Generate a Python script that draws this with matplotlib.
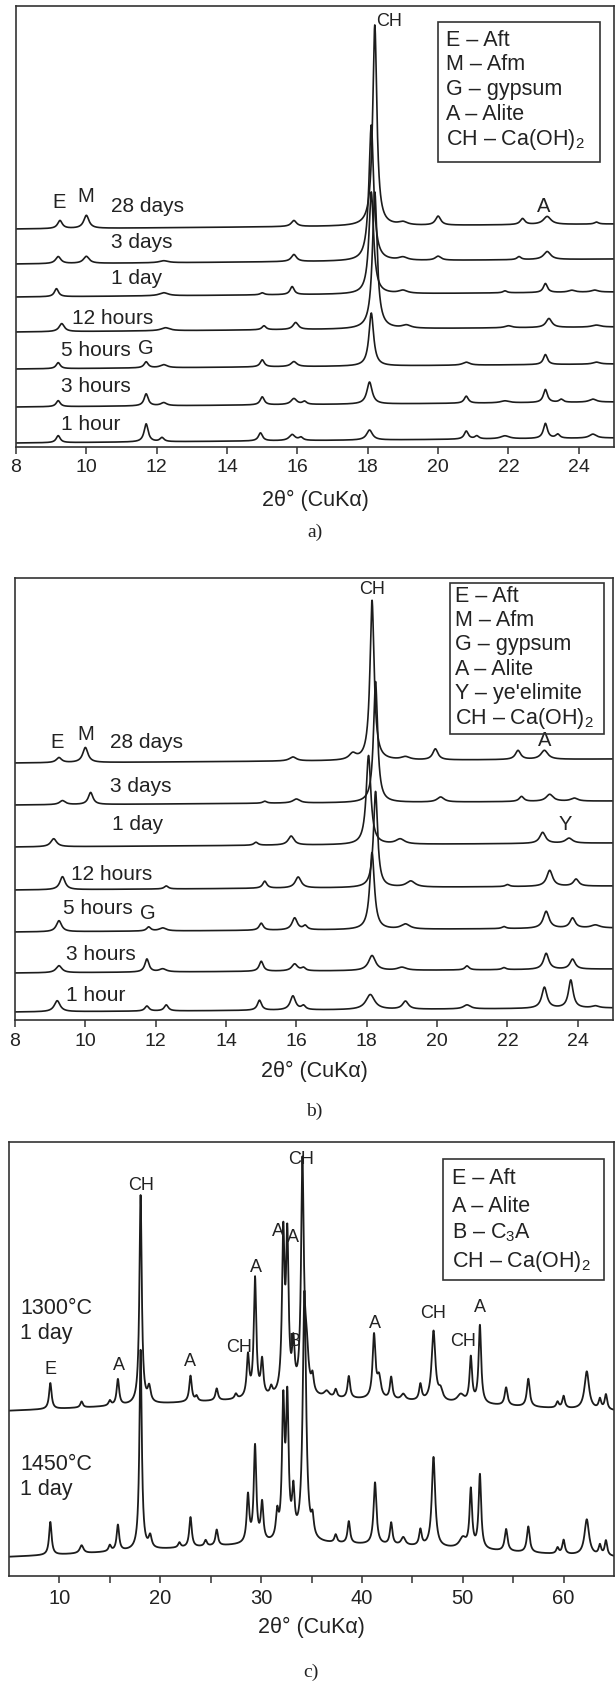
import numpy as np
import matplotlib
matplotlib.use("Agg")
import matplotlib.pyplot as plt
from matplotlib.patches import Rectangle

plt.rcParams["font.family"] = ["Liberation Sans", "DejaVu Sans"]
plt.rcParams["mathtext.fontset"] = "custom"
plt.rcParams["mathtext.rm"] = "Liberation Sans"
plt.rcParams["mathtext.default"] = "regular"

# ---------------- data: peaks as (2theta, height[, half width]) ----------------
ages = ["1 hour", "3 hours", "5 hours", "12 hours", "1 day", "3 days", "28 days"]

# panel a
a_1h = [(9.2, 7), (11.7, 18), (12.15, 4), (14.95, 8), (15.85, 6, 0.1), (16.1, 3), (18.05, 10, 0.1),
        (20.8, 8), (21.1, 3), (21.9, 3, 0.15), (23.05, 15), (23.4, 4), (24.4, 4, 0.12)]
a_3h = [(9.2, 6), (11.7, 12), (12.2, 3, 0.1), (15.0, 8), (15.9, 6, 0.1), (16.2, 3), (18.05, 22, 0.09),
        (20.8, 7), (21.9, 2, 0.15), (23.05, 13), (23.5, 3), (24.4, 3, 0.12)]
a_5h = [(9.2, 6), (11.7, 6), (12.2, 3, 0.12), (15.0, 7), (15.9, 5, 0.1), (18.1, 53, 0.08),
        (20.8, 3, 0.12), (23.05, 10), (24.5, 2, 0.12)]
a_12h = [(9.3, 8, 0.09), (12.25, 3, 0.15), (15.05, 4), (15.95, 7, 0.09), (18.2, 137, 0.08),
         (19.1, 3, 0.15), (22.0, 2, 0.12), (23.15, 9, 0.1), (24.5, 2, 0.15)]
a_1d = [(9.15, 8), (12.2, 3, 0.15), (15.0, 2), (15.85, 8), (18.1, 102, 0.08), (19.0, 3, 0.15),
        (21.9, 2), (23.05, 9), (23.8, 2, 0.12), (24.45, 2, 0.12)]
a_3d = [(9.2, 7, 0.09), (10.0, 7, 0.1), (12.2, 2, 0.15), (15.9, 7, 0.09), (18.1, 136, 0.08),
        (19.0, 3, 0.15), (20.0, 4, 0.1), (22.3, 3), (23.1, 8, 0.12)]
a_28d = [(9.25, 8, 0.08), (10.0, 13, 0.09), (15.9, 6, 0.09), (18.2, 201, 0.07), (19.0, 3, 0.15),
         (20.0, 9, 0.09), (22.4, 6, 0.08), (23.1, 8, 0.13), (24.5, 2)]
a_peaks = [a_1h, a_3h, a_5h, a_12h, a_1d, a_3d, a_28d]

# panel b
b_1h = [(9.2, 11, 0.1), (11.75, 5), (12.3, 6), (14.95, 10), (15.9, 14, 0.09), (16.2, 4),
        (18.1, 15, 0.15), (19.1, 8, 0.1), (20.85, 4, 0.12), (23.05, 21, 0.09), (23.8, 28, 0.08),
        (24.5, 2, 0.12)]
b_3h = [(9.25, 7, 0.1), (11.75, 13), (12.2, 3, 0.12), (15.0, 10), (15.95, 7, 0.1), (16.2, 3),
        (18.15, 15, 0.12), (19.0, 3, 0.15), (20.85, 4), (21.9, 2), (23.1, 16, 0.09), (23.85, 10, 0.09)]
b_5h = [(9.25, 11, 0.09), (11.8, 4), (12.2, 3, 0.12), (15.0, 7), (15.95, 12, 0.09), (16.25, 4),
        (18.15, 77, 0.08), (19.1, 5, 0.15), (21.9, 2), (23.1, 17, 0.1), (23.85, 10, 0.09), (24.5, 3, 0.15)]
b_12h = [(9.35, 13, 0.09), (12.3, 3), (15.1, 7), (16.05, 11, 0.1), (18.25, 96, 0.07),
         (19.25, 6, 0.15), (22.0, 2), (23.2, 16, 0.1), (23.95, 7, 0.09)]
b_1d = [(9.1, 8, 0.1), (14.85, 3), (15.85, 9, 0.1), (18.05, 89, 0.08), (18.95, 5, 0.15),
        (23.0, 11, 0.1), (23.75, 5, 0.12)]
b_3d = [(9.35, 4, 0.1), (10.15, 12, 0.08), (15.1, 2), (16.0, 4, 0.12), (18.25, 121, 0.07),
        (20.1, 5, 0.12), (22.4, 5, 0.08), (23.2, 7, 0.12), (23.9, 3, 0.12)]
b_28d = [(9.25, 5, 0.09), (10.0, 15, 0.09), (15.9, 4, 0.12), (17.6, 6, 0.12), (18.15, 160, 0.07),
         (19.1, 3, 0.15), (19.95, 11, 0.09), (22.3, 9, 0.09), (23.05, 9, 0.12)]
b_peaks = [b_1h, b_3h, b_5h, b_12h, b_1d, b_3d, b_28d]

# panel c (first entry = broad amorphous hump)
c_samples = ["1450°C", "1300°C"]
c_1300 = [(35, 22, 28), (9.1, 26), (12.2, 6), (15.0, 5), (15.8, 26), (18.05, 209, 0.14),
          (18.9, 15, 0.18), (23.0, 26), (23.6, 5), (25.6, 12), (27.5, 5), (28.7, 41), (29.4, 119),
          (30.1, 35), (31.0, 8), (32.2, 155), (32.6, 150), (33.2, 45), (34.1, 229, 0.16),
          (34.5, 40, 0.22), (35.1, 16), (36.5, 6, 0.3), (37.4, 8), (38.7, 22), (41.2, 63, 0.17),
          (41.7, 20, 0.22), (42.9, 22), (44.1, 6, 0.25), (45.8, 16), (47.1, 70, 0.22), (47.8, 10, 0.25),
          (49.8, 8, 0.4), (50.8, 45), (51.7, 78), (54.3, 18, 0.17), (56.5, 28, 0.17), (59.4, 6),
          (60.0, 12), (62.3, 38, 0.27), (63.6, 10), (64.2, 15)]
c_1450 = [(35, 24, 28), (9.1, 33), (12.2, 8, 0.22), (15.0, 6), (15.8, 26), (18.05, 200, 0.14),
          (19.0, 12, 0.18), (21.9, 5), (23.0, 30), (24.5, 6), (25.6, 16), (28.7, 47), (29.4, 96),
          (30.1, 38), (31.6, 25), (32.2, 132), (32.6, 134), (33.2, 44), (34.3, 250, 0.2),
          (35.1, 18), (37.4, 8), (38.7, 22), (41.3, 62, 0.17), (42.9, 22), (44.1, 8, 0.25),
          (45.8, 16), (47.1, 90, 0.2), (50.0, 10, 0.4), (50.8, 58), (51.7, 74), (54.3, 22, 0.17),
          (56.5, 26, 0.17), (59.4, 6), (60.0, 14), (62.3, 36, 0.27), (63.6, 10), (64.2, 15)]
c_peaks = [c_1450, c_1300]

c_marks = ["E", "A", "CH", "A", "CH", "A", "A", "A", "B", "CH", "A", "CH", "CH", "A"]
c_mark_x = [9.14, 15.94, 18.09, 22.97, 27.85, 29.45, 31.7, 33.2, 33.36, 34.0, 41.25, 47.1, 50.04, 51.72]

legend_a = ["E – Aft", "M – Afm", "G – gypsum", "A – Alite", "CH – Ca(OH)$_2$"]
legend_b = ["E – Aft", "M – Afm", "G – gypsum", "A – Alite", "Y – ye'elimite", "CH – Ca(OH)$_2$"]
legend_c = ["E – Aft", "A – Alite", "B – C$_3$A", "CH – Ca(OH)$_2$"]

# ---------------- layout (pixels of a 616 x 1695 canvas) ----------------
W, H = 616, 1695
INK = "#1c1c1c"
FRAME = "#333333"
TXT = "#222222"

fig = plt.figure(figsize=(W / 100, H / 100), dpi=100)


def add_axes(l, r, t, b):
    return fig.add_axes([l / W, 1 - b / H, (r - l) / W, (b - t) / H])


def curve(ax, x, offset, drift, peaks, hw, lw):
    y = offset + drift * (x - x[0]) / (x[-1] - x[0])
    for pk in peaks:
        w = pk[2] if len(pk) > 2 else hw
        y = y + pk[1] / (1 + ((x - pk[0]) / w) ** 2)
    ax.plot(x, y, color=INK, lw=lw, solid_joinstyle="round")


def style(ax, xlim, ticks, labels, ymax, size=14):
    ax.set_xlim(*xlim)
    ax.set_ylim(0, ymax)
    ax.set_yticks([])
    ax.set_xticks(ticks)
    ax.set_xticklabels(labels)
    ax.tick_params(axis="x", direction="out", length=5, width=1.1, color=FRAME,
                   labelsize=size, labelcolor=TXT, pad=4)
    for s in ax.spines.values():
        s.set_linewidth(1.2)
        s.set_color(FRAME)


def legend_box(l, r, t, b, rows, left, ys, size=15.5):
    fig.add_artist(Rectangle((l / W, 1 - b / H), (r - l) / W, (b - t) / H,
                             transform=fig.transFigure, fill=False, ec=FRAME, lw=1.2))
    for txt, y in zip(rows, ys):
        fig.text(left / W, 1 - y / H, txt, fontsize=size, color=TXT, va="center", ha="left")


def caption(cx, y_xlabel, y_letter, letter):
    fig.text(cx / W, 1 - y_xlabel / H, "2θ° (CuKα)", fontsize=15.5, color=TXT, ha="center", va="center")
    fig.text(cx / W, 1 - y_letter / H, letter, fontsize=14, color=TXT, ha="center", va="center",
             family="Liberation Serif")


# ---------------- panel a ----------------
ax = add_axes(16, 614, 6, 447)
xa = np.linspace(8, 25, 4000)
a_off = [4, 40, 78, 115, 150, 183, 218]
for off, pk in zip(a_off, a_peaks):
    curve(ax, xa, off, 5, pk, 0.07, 1.2)
style(ax, (8, 25), range(8, 25, 2), [str(v) for v in range(8, 25, 2)], 441)
a_lab_x = [9.29, 9.29, 9.29, 9.59, 10.7, 10.7, 10.7]
a_lab_y = [23, 60, 96, 129, 169, 204, 240]
for t, lx, ly in zip(ages, a_lab_x, a_lab_y):
    ax.text(lx, ly, t, fontsize=15, color=TXT, ha="left", va="center")
for t, lx, ly in [("E", 9.22, 244), ("M", 9.98, 250), ("G", 11.7, 98), ("A", 23.0, 241), ("CH", 18.6, 425)]:
    ax.text(lx, ly, t, fontsize=13 if t == "CH" else 14.5, color=TXT, ha="center", va="center")
legend_box(438, 600, 22, 162, legend_a, 446, [40, 65, 90, 115, 140])
caption(315, 500, 532, "a)")

# ---------------- panel b ----------------
ax = add_axes(15, 613, 578, 1020)
b_off = [8, 47, 88, 130, 173, 215, 257]
for off, pk in zip(b_off, b_peaks):
    curve(ax, xa, off, 4, pk, 0.07, 1.2)
style(ax, (8, 25), range(8, 25, 2), [str(v) for v in range(8, 25, 2)], 442)
b_lab_x = [9.44, 9.44, 9.37, 9.59, 10.75, 10.7, 10.7]
b_lab_y = [25, 66, 112, 146, 195, 234, 277]
for t, lx, ly in zip(ages, b_lab_x, b_lab_y):
    ax.text(lx, ly, t, fontsize=15, color=TXT, ha="left", va="center")
for t, lx, ly in [("E", 9.2, 277), ("M", 10.0, 286), ("G", 11.78, 107), ("A", 23.05, 279),
                  ("Y", 23.65, 195), ("CH", 18.15, 430)]:
    ax.text(lx, ly, t, fontsize=13 if t == "CH" else 14.5, color=TXT, ha="center", va="center")
legend_box(450, 604, 583, 734, legend_b, 455, [596, 620.5, 645, 669.5, 694, 718.5])
caption(314, 1071, 1111, "b)")

# ---------------- panel c ----------------
ax = add_axes(9, 614, 1142, 1576)
xc = np.linspace(5, 65, 6000)
c_off = [8, 155]
for off, pk in zip(c_off, c_peaks):
    curve(ax, xc, off, 0, pk, 0.15, 1.3)
style(ax, (5, 65), range(10, 61, 5), [str(v) if v % 10 == 0 else "" for v in range(10, 61, 5)], 434,
      size=14.5)
c_mark_y = [207, 210, 391, 214, 229, 309, 344, 339, 234.5, 416, 253, 263, 234.5, 268]
for t, lx, ly in zip(c_marks, c_mark_x, c_mark_y):
    ax.text(lx, ly, t, fontsize=13, color=TXT, ha="center", va="center")
for s, ly in zip(c_samples, [111, 267]):
    ax.text(6.1, ly, s, fontsize=15.5, color=TXT, ha="left", va="center")
    ax.text(6.1, ly - 25, "1 day", fontsize=15.5, color=TXT, ha="left", va="center")
legend_box(443, 604, 1159, 1280, legend_c, 452, [1178, 1206, 1233, 1261])
caption(311, 1627, 1672, "c)")

fig.savefig("out.png", dpi=100)
